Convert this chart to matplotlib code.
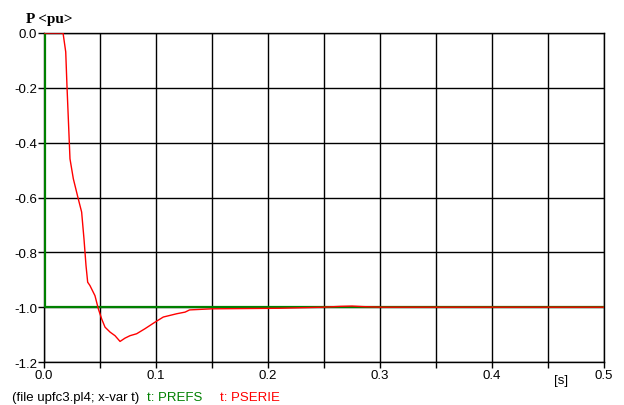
import numpy as np
import matplotlib
matplotlib.use('Agg')
import matplotlib.pyplot as plt
from matplotlib.ticker import MultipleLocator

# PREFS: step to -1 pu right at the start
t_prefs = [0.0, 0.0005, 0.0005, 0.5]
p_prefs = [0.0, 0.0, -1.0, -1.0]

# PSERIE
t_pserie = [0.0, 0.017, 0.0194, 0.0205, 0.0232, 0.0262, 0.0306, 0.0336, 0.0357,
            0.0375, 0.039, 0.041, 0.0455, 0.0485, 0.0515, 0.0545, 0.059, 0.0634,
            0.0679, 0.0723, 0.0768, 0.0827, 0.09, 0.099, 0.1065, 0.1185, 0.126,
            0.130, 0.15, 0.21, 0.25, 0.265, 0.275, 0.285, 0.3, 0.5]
p_pserie = [0.0, 0.0, -0.069, -0.192, -0.459, -0.532, -0.605, -0.653, -0.751,
            -0.848, -0.909, -0.921, -0.958, -1.006, -1.043, -1.073, -1.091, -1.104,
            -1.125, -1.113, -1.104, -1.097, -1.079, -1.055, -1.036, -1.024, -1.018,
            -1.010, -1.006, -1.004, -1.0, -0.997, -0.996, -0.998, -1.0, -1.0]

plt.rcParams['font.family'] = ['Liberation Sans', 'DejaVu Sans']
fs = 9.5

fig = plt.figure(figsize=(6.24, 4.06), dpi=100)
ax = fig.add_axes([44/624, 1-363/406, 560/624, 329/406])

ax.plot(t_prefs, p_prefs, color='#008000', lw=1.6, zorder=3)
ax.plot(t_pserie, p_pserie, color='#ff0000', lw=1.0, zorder=4)

ax.set_xlim(0, 0.5)
ax.set_ylim(-1.2, 0.0)
ax.xaxis.set_major_locator(MultipleLocator(0.1))
ax.xaxis.set_minor_locator(MultipleLocator(0.05))
ax.yaxis.set_major_locator(MultipleLocator(0.2))
ax.set_xticklabels([f'{v:.1f}' for v in ax.get_xticks()])
ax.set_yticklabels([f'{v:.1f}' for v in ax.get_yticks()])
ax.grid(True, which='both', color='black', lw=1.0)
ax.tick_params(which='both', direction='out', length=4, width=1, labelsize=fs,
               colors='black', pad=1)
for s in ax.spines.values():
    s.set_linewidth(1.0)
    s.set_color('black')

fig.text(26/624, 1-20/406, 'P <pu>', family='Liberation Serif', weight='bold',
         fontsize=11, va='center', ha='left')
fig.text(561/624, 1-381/406, '[s]', fontsize=fs, va='center', ha='center')

y_leg = 1-398/406
fig.text(12/624, y_leg, '(file upfc3.pl4; x-var t)', fontsize=fs, va='center')
fig.text(147/624, y_leg, 't: PREFS', fontsize=fs, va='center', color='#008000')
fig.text(220/624, y_leg, 't: PSERIE', fontsize=fs, va='center', color='#ff0000')

fig.savefig('out.png', dpi=100)
